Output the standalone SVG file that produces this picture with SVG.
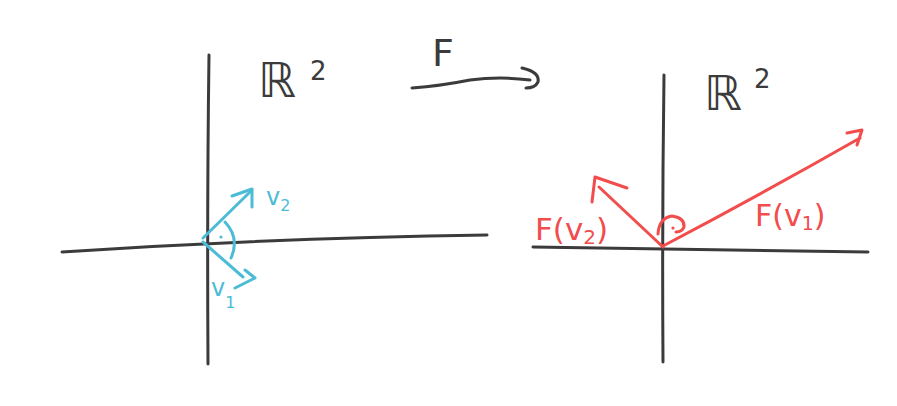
<svg xmlns="http://www.w3.org/2000/svg" width="897" height="406" viewBox="0 0 897 406">
<style>
.ax{fill:none;stroke:#3b3b3b;stroke-width:3;stroke-linecap:round;stroke-linejoin:round}
.cy{fill:none;stroke:#4cbcd6;stroke-width:3;stroke-linecap:round;stroke-linejoin:round}
.rd{fill:none;stroke:#f24c4c;stroke-width:3;stroke-linecap:round;stroke-linejoin:round}
.tk{font-family:"DejaVu Sans",sans-serif;fill:#3b3b3b}
.tc{font-family:"DejaVu Sans",sans-serif;fill:#4cbcd6}
.tr{font-family:"DejaVu Sans",sans-serif;fill:#f24c4c}
</style>
<rect width="897" height="406" fill="#ffffff"/>
<g id="left-plane">
<path class="ax" d="M209,55 Q207,200 208,364"/>
<path class="ax" d="M62,252 Q270,238 487,235"/>
<text class="tk" x="258" y="97" font-size="48">ℝ</text>
<text class="tk" x="310" y="80" font-size="26">2</text>
</g>
<g id="right-plane">
<path class="ax" d="M664,75 Q662,220 663,362"/>
<path class="ax" d="M533,247 Q700,249 868,252"/>
<text class="tk" x="704" y="110" font-size="48">ℝ</text>
<text class="tk" x="754" y="88" font-size="26">2</text>
</g>
<g id="map-F">
<text class="tk" x="432" y="66" font-size="38">F</text>
</g>
<g id="connectors">
<path class="ax" d="M412,88 Q440,86 470,80 Q500,76 530,80"/>
<path class="ax" d="M522,68 Q540,72 538,82 Q535,88 526,88"/>
<path class="cy" d="M203,238 L252,190"/>
<path class="cy" d="M232,196 L252,189 L252,207"/>
<path class="cy" d="M203,242 L243,277"/>
<path class="cy" d="M245,270 L255,278 L235,288"/>
<path class="cy" d="M225,222 Q240,238 231,258"/>
<circle cx="221" cy="237" r="1.6" fill="#4cbcd6"/>
<path class="rd" d="M663,247 L599,187"/>
<path class="rd" d="M592,202 L595,177 L627,188"/>
<path class="rd" d="M663,246 Q760,195 860,138"/>
<path class="rd" d="M847,133 L862,130 L857,145"/>
<path class="rd" d="M658,234 Q659,218 672,216 Q685,218 684,227 Q682,232 676,232"/>
<circle cx="673" cy="228" r="1.6" fill="#f24c4c"/>
</g>
<g id="label-v2"><text class="tc" x="266" y="205" font-size="24">v<tspan font-size="16" dy="6">2</tspan></text></g>
<g id="label-v1"><text class="tc" x="211" y="296" font-size="24">v<tspan font-size="16" dy="12">1</tspan></text></g>
<g id="label-Fv2"><text class="tr" x="535" y="240" font-size="31">F(v<tspan font-size="20" dy="4">2</tspan><tspan dy="-4">)</tspan></text></g>
<g id="label-Fv1"><text class="tr" x="755" y="226" font-size="30">F(v<tspan font-size="19" dy="4">1</tspan><tspan dy="-4">)</tspan></text></g>
</svg>
